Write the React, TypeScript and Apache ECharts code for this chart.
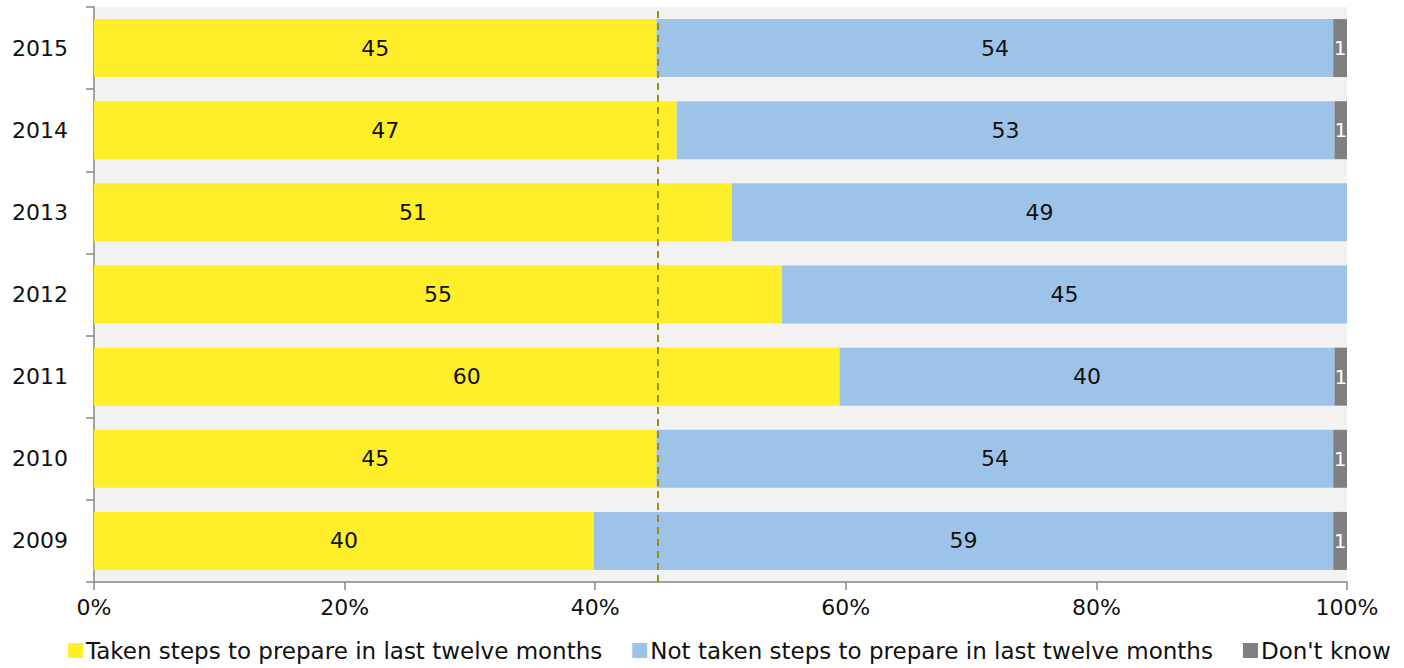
import React, { useEffect, useRef } from "react";
import * as echarts from "echarts";

const years = ["2009", "2010", "2011", "2012", "2013", "2014", "2015"];
const taken = [39.9, 44.9, 59.5, 54.9, 50.9, 46.5, 44.9];
const notTaken = [59.0, 54.0, 39.5, 45.1, 49.1, 52.5, 54.0];
const dontKnow = [1.1, 1.1, 1.0, 0, 0, 1.0, 1.1];
const xTicks = [0, 20, 40, 60, 80, 100];
const referenceLine = 45;

const FONT = "DejaVu Sans";

export default function App() {
  const ref = useRef<HTMLDivElement>(null);
  useEffect(() => {
    document.body.style.margin = "0";
    const chart = echarts.init(ref.current!, null, { renderer: "svg" });
    const labelFmt = (p: any) => (p.value ? String(Math.round(p.value)) : "");
    chart.setOption({
      animation: false,
      textStyle: { fontFamily: FONT },
      grid: {
        left: 94,
        right: 57,
        top: 7,
        bottom: 86,
        show: true,
        backgroundColor: "#F2F2F2",
        borderWidth: 0,
      },
      legend: {
        bottom: 1,
        left: 63,
        icon: "rect",
        itemWidth: 15,
        itemHeight: 15,
        itemGap: 30,
        textStyle: { fontSize: 23, color: "#111", fontFamily: FONT, padding: [0, 0, 0, -2] },
        data: [
          "Taken steps to prepare in last twelve months",
          "Not taken steps to prepare in last twelve months",
          "Don't know",
        ],
      },
      xAxis: {
        type: "value",
        min: xTicks[0],
        max: xTicks[xTicks.length - 1],
        interval: 20,
        axisLine: { show: true, lineStyle: { color: "#868686", width: 1.5 } },
        axisTick: { show: true, length: 8, lineStyle: { color: "#868686", width: 1.5 } },
        splitLine: { show: false },
        axisLabel: {
          formatter: "{value}%",
          fontSize: 22,
          color: "#111",
          margin: 14,
          fontFamily: FONT,
        },
      },
      yAxis: {
        type: "category",
        data: years,
        axisLine: { show: true, lineStyle: { color: "#868686", width: 1.5 } },
        axisTick: { show: true, length: 8, lineStyle: { color: "#868686", width: 1.5 } },
        axisLabel: { fontSize: 22, color: "#111", margin: 26, fontFamily: FONT },
      },
      series: [
        {
          name: "Taken steps to prepare in last twelve months",
          type: "bar",
          stack: "total",
          barWidth: 58,
          data: taken,
          itemStyle: { color: "#FFEE2A" },
          label: { show: true, position: "inside", fontSize: 22, color: "#111", formatter: labelFmt },
          markLine: {
            silent: true,
            symbol: "none",
            label: { show: false },
            lineStyle: { color: "#A38F00", type: [7, 5], width: 2 },
            data: [{ xAxis: referenceLine }],
            z: 10,
          },
        },
        {
          name: "Not taken steps to prepare in last twelve months",
          type: "bar",
          stack: "total",
          barWidth: 58,
          data: notTaken,
          itemStyle: { color: "#9DC3E9" },
          label: { show: true, position: "inside", fontSize: 22, color: "#111", formatter: labelFmt },
        },
        {
          name: "Don't know",
          type: "bar",
          stack: "total",
          barWidth: 58,
          data: dontKnow,
          itemStyle: { color: "#808080" },
          label: {
            show: true,
            position: "inside",
            fontSize: 20,
            color: "#ffffff",
            formatter: labelFmt,
          },
        },
      ],
    });
    return () => chart.dispose();
  }, []);
  return <div ref={ref} style={{ width: 1404, height: 668 }} />;
}
